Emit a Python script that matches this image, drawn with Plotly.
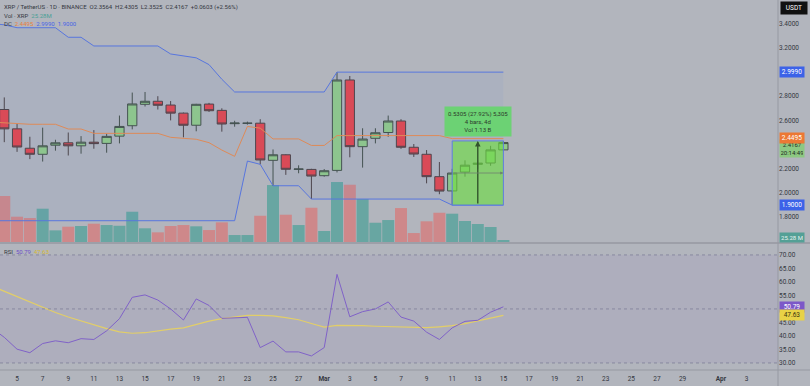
import plotly.graph_objects as go
import pandas as pd

# ---------------- data ----------------
candle_dates = pd.date_range("2025-02-04", "2025-03-15", freq="D")
opens  = [2.69, 2.53, 2.37, 2.32, 2.395, 2.415, 2.39, 2.42, 2.41, 2.47, 2.556, 2.733, 2.758, 2.727, 2.66, 2.56, 2.735, 2.683, 2.573, 2.576, 2.577, 2.27, 2.316, 2.196, 2.195,
          2.143, 2.187, 2.934, 2.383, 2.452, 2.50, 2.595, 2.378, 2.32, 2.135, 2.017, 2.173, 2.237, 2.248, 2.3564]
highs  = [2.79, 2.57, 2.465, 2.54, 2.44, 2.50, 2.47, 2.52, 2.49, 2.64, 2.83, 2.835, 2.80, 2.76, 2.665, 2.737, 2.745, 2.70, 2.597, 2.59, 2.61, 2.36, 2.32, 2.229, 2.20,
          2.198, 2.999, 2.967, 2.535, 2.535, 2.64, 2.61, 2.405, 2.355, 2.256, 2.20, 2.27, 2.27, 2.39, 2.4305]
lows   = [2.42, 2.34, 2.28, 2.26, 2.35, 2.31, 2.325, 2.366, 2.333, 2.41, 2.526, 2.715, 2.69, 2.60, 2.46, 2.51, 2.67, 2.507, 2.548, 2.565, 2.237, 2.06, 2.15, 2.163, 1.95,
          2.135, 2.17, 2.295, 2.21, 2.41, 2.465, 2.365, 2.298, 2.08, 1.99, 1.90, 2.135, 2.20, 2.225, 2.3525]
closes = [2.53, 2.38, 2.32, 2.39, 2.415, 2.39, 2.42, 2.408, 2.468, 2.55, 2.736, 2.758, 2.725, 2.66, 2.56, 2.733, 2.68, 2.57, 2.578, 2.577, 2.273, 2.316, 2.196, 2.198, 2.14,
          2.184, 2.934, 2.383, 2.446, 2.498, 2.595, 2.378, 2.322, 2.135, 2.016, 2.165, 2.23, 2.246, 2.3564, 2.4167]
volumes_m = [580, 319, 302, 420, 147, 193, 202, 231, 214, 205, 382, 173, 122, 202, 214, 198, 151, 248, 88, 88, 331, 718, 344, 214, 432,
             139, 756, 722, 542, 243, 277, 428, 113, 261, 369, 357, 265, 227, 189, 25.28]

line_dates = pd.date_range("2025-02-03", "2025-03-15", freq="D")
dc_upper = [3.40, 3.39, 3.366, 3.366, 3.366, 3.366, 3.287, 3.287, 3.215, 3.215, 3.215, 3.215, 3.215, 3.215, 3.149, 3.132, 3.117, 3.061, 2.94, 2.835,
            2.835, 2.835, 2.835, 2.835, 2.835, 2.835,
            2.835, 2.999, 2.999, 2.999, 2.999, 2.999, 2.999, 2.999, 2.999, 2.999, 2.999, 2.999, 2.999, 2.999, 2.999]
dc_lower = [1.771] * 20 + [2.264, 2.237, 2.06, 2.06, 2.06, 1.95,
            1.95, 1.95, 1.95, 1.95, 1.95, 1.95, 1.95, 1.95, 1.95, 1.95, 1.90, 1.90, 1.90, 1.90, 1.90]
dc_mid = [2.586, 2.58, 2.568, 2.568, 2.568, 2.568, 2.529, 2.529, 2.493, 2.493, 2.493, 2.493, 2.493, 2.493, 2.46, 2.451, 2.444, 2.416, 2.355, 2.303,
          2.55, 2.536, 2.447, 2.447, 2.447, 2.393,
          2.393, 2.4745, 2.4745, 2.4745, 2.4745, 2.4745, 2.4745, 2.4745, 2.4745, 2.4745, 2.4495, 2.4495, 2.4495, 2.4495, 2.4495]
rsi = [43, 39.5, 35.1, 33.8, 37.2, 38.2, 37.5, 39, 38.7, 41.9, 46.4, 54.3, 55.2, 53.3, 50, 45.9, 53.7, 51.3, 46.5, 46.6, 46.9, 35.7, 38.1, 34.1, 34.1, 32.6,
       35.7, 62.8, 47.1, 49, 50, 52.6, 47, 45.5, 41.4, 38.7, 43, 45.4, 45.8, 48.8, 50.79]
rsi_ma = [58.5, 56.5, 54.5, 52.5, 50.5, 48.7, 47, 45.5, 44, 42.7, 41.5, 41, 41.2, 41.9, 42.5, 43, 44.2, 45.5, 46.4, 47, 47.6, 47.6, 47.4, 46.8, 46, 44.6,
          43.3, 43.9, 43.9, 43.8, 43.6, 43.5, 43.5, 43.4, 43.1, 43.4, 43.8, 44.6, 45.5, 46.6, 47.63]

x_tick_dates = ["2025-02-05", "2025-02-07", "2025-02-09", "2025-02-11", "2025-02-13", "2025-02-15", "2025-02-17", "2025-02-19",
                "2025-02-21", "2025-02-23", "2025-02-25", "2025-02-27", "2025-03-01", "2025-03-03", "2025-03-05", "2025-03-07",
                "2025-03-09", "2025-03-11", "2025-03-13", "2025-03-15", "2025-03-17", "2025-03-19", "2025-03-21", "2025-03-23",
                "2025-03-25", "2025-03-27", "2025-03-29", "2025-04-01", "2025-04-03"]
x_tick_text = ["5", "7", "9", "11", "13", "15", "17", "19", "21", "23", "25", "27", "<b>Mar</b>", "3", "5", "7", "9", "11", "13", "15",
               "17", "19", "21", "23", "25", "27", "29", "<b>Apr</b>", "3"]
price_ticks = [1.8, 2.0, 2.2, 2.6, 2.8, 3.2, 3.4]
rsi_ticks = [30, 35, 40, 45, 55, 60, 65, 70]

# ---------------- style ----------------
BG = "rgb(178,181,189)"
TXT = "#34373f"
FONT = "Roboto"
BLUE = "rgb(88,118,222)"
ORANGE = "rgb(222,138,88)"
PURPLE = "rgb(128,98,200)"
YELLOW = "rgb(226,206,104)"
TEAL_V = "rgb(104,166,162)"
RED_V = "rgb(206,136,138)"

fig = go.Figure()

# volume (base axis, drawn below)
vcol = [TEAL_V if c >= o else RED_V for o, c in zip(opens, closes)]
fig.add_trace(go.Bar(x=candle_dates, y=volumes_m, marker=dict(color=vcol, line_width=0),
                     xaxis="x", yaxis="y", hoverinfo="skip"))

# Donchian channel
fig.add_trace(go.Scatter(x=line_dates, y=dc_upper, mode="lines", line=dict(color=BLUE, width=1),
                         xaxis="x", yaxis="y2", hoverinfo="skip"))
fig.add_trace(go.Scatter(x=line_dates, y=dc_lower, mode="lines", line=dict(color=BLUE, width=1),
                         fill="tonexty", fillcolor="rgba(60,120,235,0.05)", xaxis="x", yaxis="y2", hoverinfo="skip"))
fig.add_trace(go.Scatter(x=line_dates, y=dc_mid, mode="lines", line=dict(color=ORANGE, width=1),
                         xaxis="x", yaxis="y2", hoverinfo="skip"))

# candles
fig.add_trace(go.Candlestick(x=candle_dates, open=opens, high=highs, low=lows, close=closes,
                             increasing=dict(line=dict(color="#46514a", width=1), fillcolor="rgb(146,202,138)"),
                             decreasing=dict(line=dict(color="#4f4446", width=1), fillcolor="rgb(226,72,80)"),
                             whiskerwidth=0, xaxis="x", yaxis="y2", hoverinfo="skip"))

# RSI
fig.add_trace(go.Scatter(x=line_dates, y=rsi_ma, mode="lines", line=dict(color=YELLOW, width=1.2),
                         xaxis="x2", yaxis="y3", hoverinfo="skip"))
fig.add_trace(go.Scatter(x=line_dates, y=rsi, mode="lines", line=dict(color=PURPLE, width=1),
                         xaxis="x2", yaxis="y3", hoverinfo="skip"))

xr = ["2025-02-03 16:00", "2025-04-05 11:00"]
fig.update_layout(
    width=810, height=386, margin=dict(l=0, r=32, t=0, b=16),
    paper_bgcolor=BG, plot_bgcolor=BG, showlegend=False, bargap=0.06,
    boxgap=0.15, boxgroupgap=0.15,
    font=dict(family=FONT, size=6.5, color=TXT),
    xaxis=dict(domain=[0, 1], anchor="y", range=xr, type="date", showticklabels=False, showgrid=False,
               zeroline=False, rangeslider=dict(visible=False), fixedrange=True),
    yaxis=dict(domain=[0.3459, 1], range=[0, 3050], visible=False, fixedrange=True),
    yaxis2=dict(overlaying="y", anchor="x", side="right", range=[1.595, 3.595], tickvals=price_ticks,
                ticktext=[f"{v:.4f}" for v in price_ticks], showgrid=False, zeroline=False, ticks="",
                tickfont=dict(size=6.5, color=TXT), fixedrange=True),
    xaxis2=dict(domain=[0, 1], anchor="y3", matches="x", range=xr, type="date", tickvals=x_tick_dates,
                ticktext=x_tick_text, showgrid=False, zeroline=False, ticks="", tickfont=dict(size=6.5, color=TXT),
                ticklabelstandoff=3, rangeslider=dict(visible=False)),
    yaxis3=dict(domain=[0, 0.3351], anchor="x2", side="right", range=[27.4, 73.3], tickvals=rsi_ticks,
                ticktext=[f"{v:.2f}" for v in rsi_ticks], showgrid=False, zeroline=False, ticks="",
                tickfont=dict(size=6.5, color=TXT), fixedrange=True),
)

shapes = []
# RSI band fill and dotted levels
shapes.append(dict(type="rect", xref="x2 domain", yref="y3", x0=0, x1=1, y0=30, y1=70,
                   fillcolor="rgba(126,87,194,0.07)", line_width=0, layer="below"))
for lvl in (70, 50, 30):
    shapes.append(dict(type="line", xref="x2 domain", yref="y3", x0=0, x1=1, y0=lvl, y1=lvl,
                       line=dict(color="rgba(110,110,140,0.6)", width=1, dash="dot")))
# pane separators and axis border
sep = (370 - 243) / 370
shapes.append(dict(type="line", xref="paper", yref="paper", x0=0, x1=1.045, y0=sep, y1=sep,
                   line=dict(color="rgb(150,153,162)", width=1.5)))
shapes.append(dict(type="line", xref="paper", yref="paper", x0=0, x1=1.045, y0=0, y1=0,
                   line=dict(color="rgb(150,153,162)", width=1)))
shapes.append(dict(type="line", xref="paper", yref="paper", x0=1, x1=1, y0=-0.05, y1=1,
                   line=dict(color="rgb(150,153,162)", width=1)))

# measurement box (Mar 11 low -> Mar 15 high)
i0 = list(candle_dates).index(pd.Timestamp("2025-03-11"))
i1 = len(candle_dates) - 1
imid = (i0 + i1) // 2
m_low, m_high = lows[i0], highs[i1]
shapes.append(dict(type="rect", xref="x", yref="y2", x0=candle_dates[i0], x1=candle_dates[i1], y0=m_low, y1=m_high,
                   fillcolor="rgba(110,225,60,0.6)", line=dict(color="rgb(95,125,225)", width=1), layer="above"))
fig.update_layout(shapes=shapes)

ann = []
# measurement arrows and label
ann.append(dict(x=candle_dates[imid], y=m_high, ax=candle_dates[imid], ay=m_low, xref="x", yref="y2", axref="x", ayref="y2",
                showarrow=True, arrowhead=2, arrowsize=0.8, arrowwidth=1.4, arrowcolor="rgb(50,85,45)", text=""))
ann.append(dict(x=candle_dates[i1], y=(m_low + m_high) / 2, ax=candle_dates[i0], ay=(m_low + m_high) / 2, xref="x", yref="y2",
                axref="x", ayref="y2", showarrow=True, arrowhead=2, arrowsize=0.8, arrowwidth=0.8,
                arrowcolor="rgb(110,130,110)", text=""))
diff = m_high - m_low
nbars = i1 - i0
ann.append(dict(x=candle_dates[imid], y=m_high, xref="x", yref="y2", yanchor="bottom", yshift=4, showarrow=False,
                text=f"{diff:.4f} ({diff / m_low * 100:.2f}%) {diff * 10000:,.0f}<br>{nbars} bars, {nbars}d<br>Vol 1.13 B",
                bgcolor="rgb(108,210,116)", font=dict(size=6, color="#2c3a2c"), borderpad=3, align="center"))

# legend texts
ann.append(dict(x=0.003, y=1, xref="paper", yref="paper", xanchor="left", yanchor="top", yshift=-1, showarrow=False,
                text="XRP / TetherUS · 1D · BINANCE  O2.3564  H2.4305  L2.3525  C2.4167  +0.0603 (+2.56%)",
                font=dict(size=6, color=TXT)))
ann.append(dict(x=0.003, y=1, xref="paper", yref="paper", xanchor="left", yanchor="top", yshift=-10, showarrow=False,
                text=f"Vol · XRP  <span style='color:rgb(72,160,150)'>{volumes_m[-1]:.2f}M</span>",
                font=dict(size=6, color=TXT)))
ann.append(dict(x=0.003, y=1, xref="paper", yref="paper", xanchor="left", yanchor="top", yshift=-18, showarrow=False,
                text=(f"DC  <span style='color:rgb(232,128,64)'>{dc_mid[-1]:.4f}</span>  "
                      f"<span style='color:rgb(70,100,230)'>{dc_upper[-1]:.4f}</span>  "
                      f"<span style='color:rgb(70,100,230)'>{dc_lower[-1]:.4f}</span>"),
                font=dict(size=6, color=TXT)))
ann.append(dict(x=0.003, y=0.3351, xref="paper", yref="paper", xanchor="left", yanchor="top", yshift=0, showarrow=False,
                text=(f"RSI  <span style='color:rgb(110,80,200)'>{rsi[-1]:.2f}</span>  "
                      f"<span style='color:rgb(215,185,50)'>{rsi_ma[-1]:.2f}</span>"),
                font=dict(size=6, color=TXT)))

# right-axis badges
def badge(yv, yref, text, bg, fg, yshift=0):
    ann.append(dict(x=1, y=yv, xref="paper", yref=yref, xanchor="left", yanchor="middle", xshift=1, yshift=yshift,
                    showarrow=False, text=text, bgcolor=bg, font=dict(size=6.5, color=fg), borderpad=1, width=22))

badge(dc_upper[-1], "y2", f"{dc_upper[-1]:.4f}", "rgb(60,98,232)", "white")
ann.append(dict(x=1, y=closes[-1], xref="paper", yref="y2", xanchor="left", yanchor="top", yshift=3.5, xshift=1, showarrow=False,
                text=f"{closes[-1]:.4f}<br>20:14:49", bgcolor="rgb(140,200,130)", font=dict(size=6, color="#1f2a1f"),
                borderpad=1, width=22))
badge(dc_mid[-1], "y2", f"{dc_mid[-1]:.4f}", "rgb(236,120,52)", "white", yshift=0.5)
badge(dc_lower[-1], "y2", f"{dc_lower[-1]:.4f}", "rgb(60,98,232)", "white")
ann.append(dict(x=1, y=volumes_m[-1], xref="paper", yref="y", xanchor="left", yanchor="middle", xshift=1, yshift=3,
                showarrow=False, text=f"{volumes_m[-1]:.2f} M", bgcolor="rgb(84,160,150)",
                font=dict(size=6, color="#e8f2f0"), borderpad=1, width=22))
badge(rsi[-1], "y3", f"{rsi[-1]:.2f}", "rgb(124,88,200)", "white")
badge(rsi_ma[-1], "y3", f"{rsi_ma[-1]:.2f}", "rgb(232,210,70)", "#3a3210")
# USDT tag
ann.append(dict(x=1, y=1, xref="paper", yref="paper", xanchor="left", yanchor="top", xshift=2, yshift=-1, showarrow=False,
                text="USDT", bgcolor="#111111", font=dict(size=6.5, color="white"), borderpad=2, width=22))

fig.update_layout(annotations=ann)
fig.write_html("out.html", config={"displayModeBar": False},
               post_script="document.body.style.margin='0';document.body.style.padding='0';document.body.style.overflow='hidden';")
